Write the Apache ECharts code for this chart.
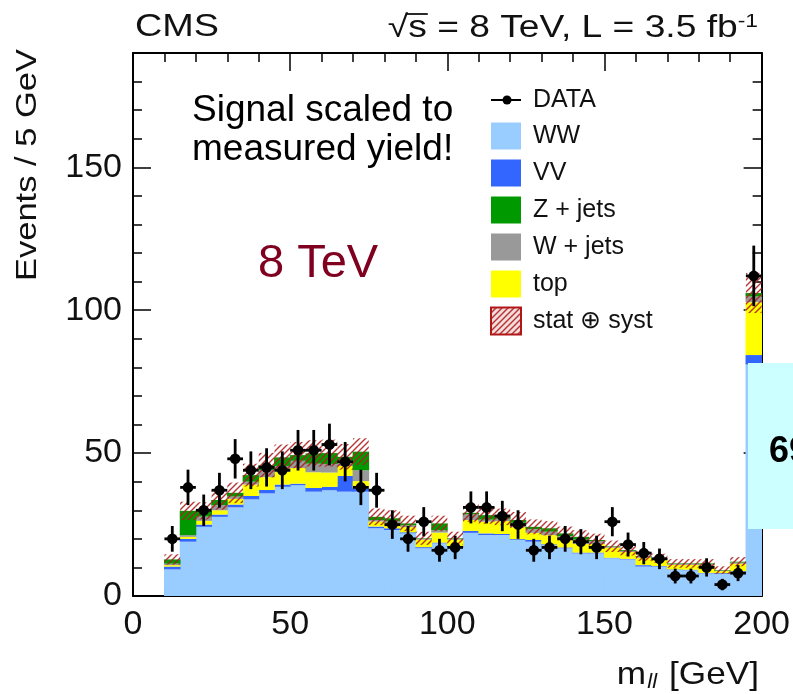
<!DOCTYPE html>
<html>
<head>
<meta charset="utf-8">
<script src="https://cdn.jsdelivr.net/npm/echarts@6/dist/echarts.min.js"></script>
<style>
  html, body { margin: 0; padding: 0; background: #fff; }
  #chart { width: 793px; height: 694px; }
</style>
</head>
<body>
<div id="chart"></div>
<script>
// m_ll histogram, 5 GeV bins (lower edges)
const binLow = [10, 15, 20, 25, 30, 35, 40, 45, 50, 55, 60, 65, 70, 75, 80, 85, 90, 95, 100,
  105, 110, 115, 120, 125, 130, 135, 140, 145, 150, 155, 160, 165, 170, 175, 180, 185, 190, 195];
const binWidth = 5;

// Stacked backgrounds, bottom to top
const ww = [9.3, 19.0, 24.2, 27.7, 31.0, 33.8, 35.9, 38.2, 38.8, 36.5, 37.0, 36.5, 36.5, 23.7, 23.1, 21.9, 16.7, 18.4, 17.2,
  22.1, 21.3, 21.3, 19.6, 19.0, 17.8, 16.7, 14.9, 14.9, 13.2, 12.8, 10.3, 10.3, 9.1, 9.0, 7.9, 7.7, 8.5, 81.0];
const vv = [1.0, 1.0, 0.8, 0.8, 1.0, 1.2, 1.2, 0.8, 0.5, 1.3, 1.2, 5.5, 1.2, 0.6, 0.6, 0.4, 0.4, 0.3, 0.3,
  0.7, 0.6, 0.4, 0.3, 0.6, 0.3, 0.3, 0.3, 0.3, 0.2, 0.2, 0.5, 0.2, 0.2, 0.2, 0.2, 0.3, 0.2, 3.3];
const top_ = [0.5, 0.7, 1.3, 1.5, 2.0, 4.0, 4.5, 4.5, 5.5, 5.5, 5.0, 3.5, 2.5, 1.8, 1.8, 1.8, 2.6, 3.5, 2.2,
  3.8, 4.1, 4.5, 4.2, 2.5, 3.2, 2.9, 3.0, 3.0, 3.5, 2.4, 2.6, 2.2, 1.6, 1.7, 2.6, 0.7, 2.6, 18.5];
const wjets = [0.5, 0.6, 1.5, 1.8, 0.8, 1.0, 2.5, 2.0, 2.5, 3.0, 3.0, 2.0, 3.8, 0.5, 0.7, 0.6, 0.3, 0.8, 0.3,
  2.0, 0.7, 0.8, 1.5, 1.3, 1.2, 1.0, 1.5, 1.0, 0.3, 0.4, 0.4, 0.3, 0.3, 0.3, 0.4, 0.2, 0.4, 2.0];
const zjets = [1.5, 8.5, 2.0, 1.8, 1.3, 2.3, 1.7, 3.0, 2.0, 3.6, 3.8, 1.2, 6.5, 1.1, 1.0, 0.7, 0.2, 2.4, 0.2,
  0.5, 1.6, 0.7, 1.0, 0.8, 1.2, 1.0, 1.0, 0.4, 0.2, 0.3, 0.2, 0.2, 0.2, 0.2, 0.3, 0.2, 0.3, 1.2];
// Half-width of the stat (+) syst band around the stack total
const bandErr = [1.8, 3.2, 3.0, 3.4, 3.6, 4.0, 4.3, 4.5, 4.6, 4.6, 4.7, 4.5, 4.7, 2.9, 2.8, 2.7, 2.3, 2.7, 2.3,
  3.1, 3.0, 2.9, 2.8, 2.6, 2.5, 2.4, 2.3, 2.2, 2.0, 1.9, 1.7, 1.6, 1.5, 1.5, 1.5, 1.3, 1.6, 7.0];

// Observed events and their statistical errors
const dataCounts = [20, 38, 30, 37, 48, 44, 45, 44, 51, 51, 53, 47, 38, 37, 25, 20, 26, 16, 17,
  31, 31, 28, 25, 16, 17, 20, 19, 17, 26, 18, 15, 13, 7, 7, 10, 4, 8, 112];
const dataErr = [4.5, 6.2, 5.5, 6.1, 6.9, 6.6, 6.7, 6.6, 7.1, 7.1, 7.3, 6.9, 6.2, 6.1, 5.0, 4.5, 5.1, 4.0, 4.1,
  5.6, 5.6, 5.3, 5.0, 4.0, 4.1, 4.5, 4.4, 4.1, 5.1, 4.2, 3.9, 3.6, 2.6, 2.6, 3.2, 2.0, 2.8, 10.6];

const xTicks = [0, 50, 100, 150, 200];
const yTicks = [0, 50, 100, 150];

const FONT = '"Liberation Sans", Arial, Helvetica, sans-serif';
const TXT = '#111111';

const components = [
  { name: 'WW', values: ww, color: '#99ccff' },
  { name: 'VV', values: vv, color: '#3366ff' },
  { name: 'top', values: top_, color: '#ffff00' },
  { name: 'W + jets', values: wjets, color: '#999999' },
  { name: 'Z + jets', values: zjets, color: '#009900' }
];

// Red diagonal hatch used for the uncertainty band
function makeHatch(bg) {
  const c = document.createElement('canvas');
  c.width = 6; c.height = 6;
  const g = c.getContext('2d');
  if (bg) { g.fillStyle = bg; g.fillRect(0, 0, 6, 6); }
  g.strokeStyle = 'rgba(175,30,30,0.9)';
  g.lineWidth = 1.4;
  g.beginPath();
  g.moveTo(-1, 7); g.lineTo(7, -1);
  g.moveTo(-1, 1); g.lineTo(1, -1);
  g.moveTo(5, 7); g.lineTo(7, 5);
  g.stroke();
  return c;
}
const hatchPattern = { image: makeHatch(null), repeat: 'repeat' };
const hatchLegend = { image: makeHatch('#f3dcdc'), repeat: 'repeat' };

// Rectangle spanning two data corners; a small overlap hides seams between bins
function binRect(api, fill) {
  const a = api.coord([api.value(0), api.value(3)]);
  const b = api.coord([api.value(1), api.value(2)]);
  return {
    type: 'rect',
    shape: { x: a[0] - 0.4, y: a[1], width: b[0] - a[0] + 0.8, height: b[1] - a[1] },
    style: { fill: fill }
  };
}

// Build stacked rectangles [x0, x1, yLow, yHigh]
const running = binLow.map(() => 0);
const stackSeries = components.map(comp => {
  const rows = binLow.map((x, i) => {
    const lo = running[i];
    const hi = lo + comp.values[i];
    running[i] = hi;
    return [x, x + binWidth, lo, hi];
  });
  return {
    type: 'custom',
    name: comp.name,
    clip: true,
    encode: { x: [0, 1], y: [2, 3] },
    data: rows,
    z: 2,
    renderItem: (params, api) => binRect(api, comp.color)
  };
});
const totals = running.slice();

const bandSeries = {
  type: 'custom',
  name: 'stat ⊕ syst',
  clip: true,
  encode: { x: [0, 1], y: [2, 3] },
  data: binLow.map((x, i) => [x, x + binWidth, totals[i] - bandErr[i], totals[i] + bandErr[i]]),
  z: 3,
  renderItem: (params, api) => {
    const a = api.coord([api.value(0), api.value(3)]);
    const b = api.coord([api.value(1), api.value(2)]);
    return {
      type: 'rect',
      shape: { x: a[0], y: a[1], width: b[0] - a[0], height: b[1] - a[1] },
      style: { fill: hatchPattern }
    };
  }
};

const dataSeries = {
  type: 'custom',
  name: 'DATA',
  clip: false,
  encode: { x: 0, y: 1 },
  data: binLow.map((x, i) => [x + binWidth / 2, dataCounts[i], dataErr[i]]),
  z: 5,
  renderItem: (params, api) => {
    const xc = api.value(0), v = api.value(1), e = api.value(2);
    const c = api.coord([xc, v]);
    const up = api.coord([xc, v + e]);
    const dn = api.coord([xc, v - e]);
    const l = api.coord([xc - binWidth / 2, v]);
    const r = api.coord([xc + binWidth / 2, v]);
    const ls = { stroke: '#000', lineWidth: 2.8 };
    return {
      type: 'group',
      children: [
        { type: 'line', shape: { x1: up[0], y1: up[1], x2: dn[0], y2: dn[1] }, style: ls },
        { type: 'line', shape: { x1: l[0], y1: l[1], x2: r[0], y2: r[1] }, style: ls },
        { type: 'circle', shape: { cx: c[0], cy: c[1], r: 5.3 }, style: { fill: '#000' } }
      ]
    };
  }
};

// Text width helper for placing the overline of the square root
const measureCtx = document.createElement('canvas').getContext('2d');
function textWidth(str, font) { measureCtx.font = font; return measureCtx.measureText(str).width; }

// Header: CMS label and energy / luminosity
const titleFont = '31px ' + FONT;
const supFont = '19px ' + FONT;
const titleScale = 1.2;
const titleRight = 758;
const titleMain = 's = 8 TeV, L = 3.5 fb';
const titleWidth = (textWidth('√', titleFont) + textWidth(titleMain, titleFont) + textWidth('-1', supFont)) * titleScale;
const titleLeft = titleRight - titleWidth;
const rootW = textWidth('√', titleFont) * titleScale;
const sW = textWidth('s', titleFont) * titleScale;

// Legend drawn as graphic entries
const legendX = 491, legendTextX = 533;
const legendFont = '25px ' + FONT;
const legendRows = [
  { label: 'WW', fill: '#99ccff', y: 136 },
  { label: 'VV', fill: '#3366ff', y: 173 },
  { label: 'Z + jets', fill: '#009900', y: 210 },
  { label: 'W + jets', fill: '#999999', y: 247 },
  { label: 'top', fill: '#ffff00', y: 284 },
  { label: 'stat ⊕ syst', fill: hatchLegend, y: 321, stroke: '#b01818' }
];
const legendGraphics = [
  { type: 'line', shape: { x1: legendX, y1: 100, x2: legendX + 30, y2: 100 }, style: { stroke: '#000', lineWidth: 2 } },
  { type: 'circle', shape: { cx: legendX + 16, cy: 100, r: 4.5 }, style: { fill: '#000' } },
  { type: 'text', x: legendTextX, y: 100, style: { text: 'DATA', font: legendFont, fill: TXT, verticalAlign: 'middle' } }
];
legendRows.forEach(row => {
  legendGraphics.push({
    type: 'rect',
    shape: { x: legendX, y: row.y - 13.5, width: 30, height: 27 },
    style: { fill: row.fill, stroke: row.stroke || null, lineWidth: row.stroke ? 2 : 0 }
  });
  legendGraphics.push({
    type: 'text', x: legendTextX, y: row.y,
    style: { text: row.label, font: legendFont, fill: TXT, verticalAlign: 'middle' }
  });
});

const axisBase = {
  type: 'value',
  axisLine: { show: true, onZero: false, lineStyle: { color: '#000', width: 2 } },
  axisTick: { show: true, inside: true, length: 18, lineStyle: { color: '#000', width: 1.5 } },
  minorTick: { show: true, splitNumber: 5, length: 9, lineStyle: { color: '#000', width: 1.5 } },
  splitLine: { show: false },
  minorSplitLine: { show: false }
};

const chart = echarts.init(document.getElementById('chart'), null, { renderer: 'canvas' });
chart.setOption({
  animation: false,
  backgroundColor: '#ffffff',
  grid: { left: 133, right: 30, top: 53, bottom: 98, containLabel: false },
  xAxis: [
    Object.assign({}, axisBase, {
      min: xTicks[0], max: xTicks[xTicks.length - 1], interval: 50, position: 'bottom',
      axisLabel: { show: true, fontSize: 34, fontFamily: FONT, color: TXT, margin: 12 }
    }),
    Object.assign({}, axisBase, {
      min: xTicks[0], max: xTicks[xTicks.length - 1], interval: 50, position: 'top',
      axisLabel: { show: false }
    })
  ],
  yAxis: [
    Object.assign({}, axisBase, {
      min: 0, max: 190, interval: 50, position: 'left',
      axisLabel: {
        show: true, fontSize: 34, fontFamily: FONT, color: TXT, margin: 11,
        formatter: v => (yTicks.indexOf(v) >= 0 ? String(v) : '')
      }
    }),
    Object.assign({}, axisBase, {
      min: 0, max: 190, interval: 50, position: 'right',
      axisLabel: { show: false }
    })
  ],
  series: stackSeries.concat([bandSeries, dataSeries]),
  graphic: [
    { type: 'text', x: 135, y: 27, scaleX: 1.22, style: { text: 'CMS', font: '31px ' + FONT, fill: TXT, verticalAlign: 'middle' } },
    {
      type: 'text', x: titleLeft, y: 28, scaleX: titleScale,
      style: {
        text: '{r|√}{n|' + titleMain + '}{sup|-1}',
        align: 'left', verticalAlign: 'middle', fill: TXT,
        rich: {
          r: { font: titleFont, fill: TXT },
          n: { font: titleFont, fill: TXT },
          sup: { font: supFont, fill: TXT, verticalAlign: 'top' }
        }
      }
    },
    { type: 'line', shape: { x1: titleLeft + rootW - 2, y1: 14, x2: titleLeft + rootW + sW + 1, y2: 14 },
      style: { stroke: TXT, lineWidth: 1.8 } },
    { type: 'text', x: 28, y: 165, rotation: Math.PI / 2, scaleX: 1.15,
      style: { text: 'Events / 5 GeV', font: '30px ' + FONT, fill: TXT, align: 'center', verticalAlign: 'middle' } },
    {
      type: 'text', x: 759, y: 675, scaleX: 1.1,
      style: {
        text: 'm{sub|ll} [GeV]', font: '32px ' + FONT, fill: TXT, align: 'right', verticalAlign: 'middle',
        rich: { sub: { font: 'italic 20px ' + FONT, fill: TXT, verticalAlign: 'bottom', padding: [14, 2, 0, 1] } }
      }
    },
    { type: 'text', x: 192, y: 111, style: { text: 'Signal scaled to', font: '37px ' + FONT, fill: '#000', verticalAlign: 'middle' } },
    { type: 'text', x: 192, y: 150, style: { text: 'measured yield!', font: '37px ' + FONT, fill: '#000', verticalAlign: 'middle' } },
    { type: 'text', x: 258, y: 264, style: { text: '8 TeV', font: '47px ' + FONT, fill: '#800020', verticalAlign: 'middle' } }
  ].concat(legendGraphics).concat([
    { type: 'rect', z: 100, shape: { x: 748, y: 363, width: 60, height: 166 }, style: { fill: '#ccffff' } },
    { type: 'text', z: 101, x: 769, y: 452, style: { text: '69', font: 'bold 36px ' + FONT, fill: '#000', verticalAlign: 'middle' } }
  ])
});
</script>
</body>
</html>
